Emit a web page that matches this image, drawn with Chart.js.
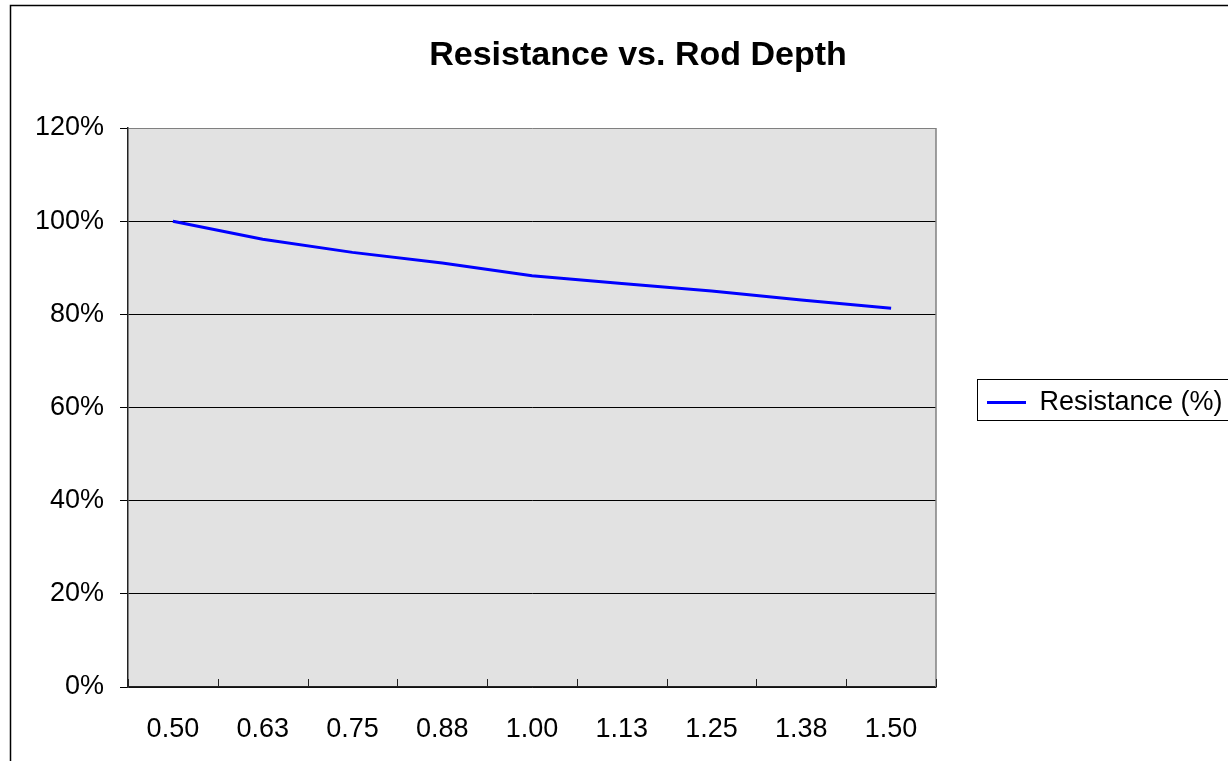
<!DOCTYPE html>
<html>
<head>
<meta charset="utf-8">
<title>Resistance vs. Rod Depth</title>
<script src="https://cdn.jsdelivr.net/npm/chart.js@4"></script>
<style>
  html, body { margin: 0; padding: 0; background: #fff; overflow: hidden; }
  canvas { display: block; }
</style>
</head>
<body>
<canvas id="myChart" width="1276" height="805"></canvas>
<script>
// ----------- data ------------ //
let depths = ["0.50", "0.63", "0.75", "0.88", "1.00", "1.13", "1.25", "1.38", "1.50"];
let resistance = [100, 96.1, 93.3, 91, 88.3, 86.6, 85, 83.1, 81.3];
let seriesName = "Resistance (%)";
let chartTitle = "Resistance vs. Rod Depth";
let yMin = 0;
let yMax = 120;
let yStep = 20;

const FONT = "'Liberation Sans', Arial, sans-serif";
const LEGEND_WIDTH = 310; // legend column incl. the gap to the plot

// background, plot border, inside ticks, outer frame, legend frame
const excelLook = {
  id: "excelLook",
  beforeLayout(chart) {
    // fixed legend width so plot and title sit where Excel put them
    const lg = chart.legend;
    if (lg && !lg._fixedWidth) {
      const fit = lg.fit.bind(lg);
      lg.fit = function () {
        fit();
        this.width = LEGEND_WIDTH;
      };
      lg._fixedWidth = true;
    }
  },
  beforeDraw(chart) {
    const { ctx, chartArea: a } = chart;
    ctx.save();
    ctx.fillStyle = "#fff";
    ctx.fillRect(0, 0, chart.width, chart.height);
    ctx.fillStyle = "#e2e2e2";
    ctx.fillRect(a.left, a.top, a.right - a.left, a.bottom - a.top);
    ctx.restore();
  },
  afterDraw(chart) {
    const { ctx, chartArea: a } = chart;
    const xs = chart.scales.x;
    ctx.save();
    // right side of plot
    ctx.strokeStyle = "#808080";
    ctx.lineWidth = 1.5;
    ctx.beginPath();
    ctx.moveTo(a.right, a.top);
    ctx.lineTo(a.right, a.bottom);
    ctx.stroke();

    // category ticks, inside, between labels
    ctx.strokeStyle = "#222";
    ctx.lineWidth = 1;
    const n = depths.length;
    const step = (xs.right - xs.left) / n;
    for (let i = 0; i <= n; i++) {
      const x = Math.round(xs.left + i * step) + 0.5;
      ctx.beginPath();
      ctx.moveTo(x, a.bottom);
      ctx.lineTo(x, a.bottom - 8);
      ctx.stroke();
    }

    // outer chart frame (left and top)
    ctx.strokeStyle = "#000";
    ctx.lineWidth = 1.5;
    ctx.beginPath();
    ctx.moveTo(10.5, chart.height);
    ctx.lineTo(10.5, 5.5);
    ctx.lineTo(chart.width, 5.5);
    ctx.stroke();

    // legend frame
    const hb = chart.legend.legendHitBoxes && chart.legend.legendHitBoxes[0];
    if (hb) {
      ctx.strokeStyle = "#000";
      ctx.lineWidth = 1;
      ctx.strokeRect(Math.round(hb.left - 10) + 0.5, Math.round(hb.top - 10) + 0.5,
        Math.round(hb.width + 20), Math.round(hb.height + 14));
    }
    ctx.restore();
  }
};

function show_chart() {
  new Chart("myChart", {
    type: "line",
    data: {
      labels: depths,
      datasets: [{
        label: seriesName,
        data: resistance,
        borderColor: "#0000ff",
        backgroundColor: "#0000ff",
        borderWidth: 3,
        pointRadius: 0,
        tension: 0,
        fill: false
      }]
    },
    options: {
      responsive: false,
      animation: false,
      layout: { padding: { left: 30, right: 30, top: 0, bottom: 0 } },
      plugins: {
        title: {
          display: true,
          text: chartTitle,
          color: "#000",
          font: { family: FONT, size: 34, weight: "bold", lineHeight: 1.2 },
          padding: { top: 35, bottom: 52.2 }
        },
        legend: {
          display: true,
          position: "right",
          align: "center",
          labels: {
            color: "#000",
            font: { family: FONT, size: 27 },
            boxWidth: 39,
            boxHeight: 3,
            padding: 51,
            generateLabels(chart) {
              const items = Chart.defaults.plugins.legend.labels.generateLabels(chart);
              items.forEach(it => { it.lineWidth = 0; it.fillStyle = "#0000ff"; });
              return items;
            }
          }
        },
        tooltip: { enabled: false }
      },
      scales: {
        x: {
          type: "category",
          offset: true,
          afterFit(s) { s.height = 118; },
          grid: { display: false, drawTicks: false },
          border: { display: true, color: "#222", width: 1.5 },
          ticks: {
            color: "#000",
            font: { family: FONT, size: 27 },
            padding: 26,
            maxRotation: 0,
            autoSkip: false
          }
        },
        y: {
          min: yMin,
          max: yMax,
          afterFit(s) { s.width = 98; },
          grid: {
            color: c => (c.tick && c.tick.value === yMax ? "#808080" : "#000"),
            lineWidth: 1,
            drawTicks: true,
            tickLength: 8,
            tickColor: "#000"
          },
          border: { display: true, color: "#222", width: 1.5 },
          ticks: {
            stepSize: yStep,
            color: "#000",
            font: { family: FONT, size: 27 },
            padding: 16,
            callback: v => v + "%"
          }
        }
      }
    },
    plugins: [excelLook]
  });
}

show_chart();
</script>
</body>
</html>
